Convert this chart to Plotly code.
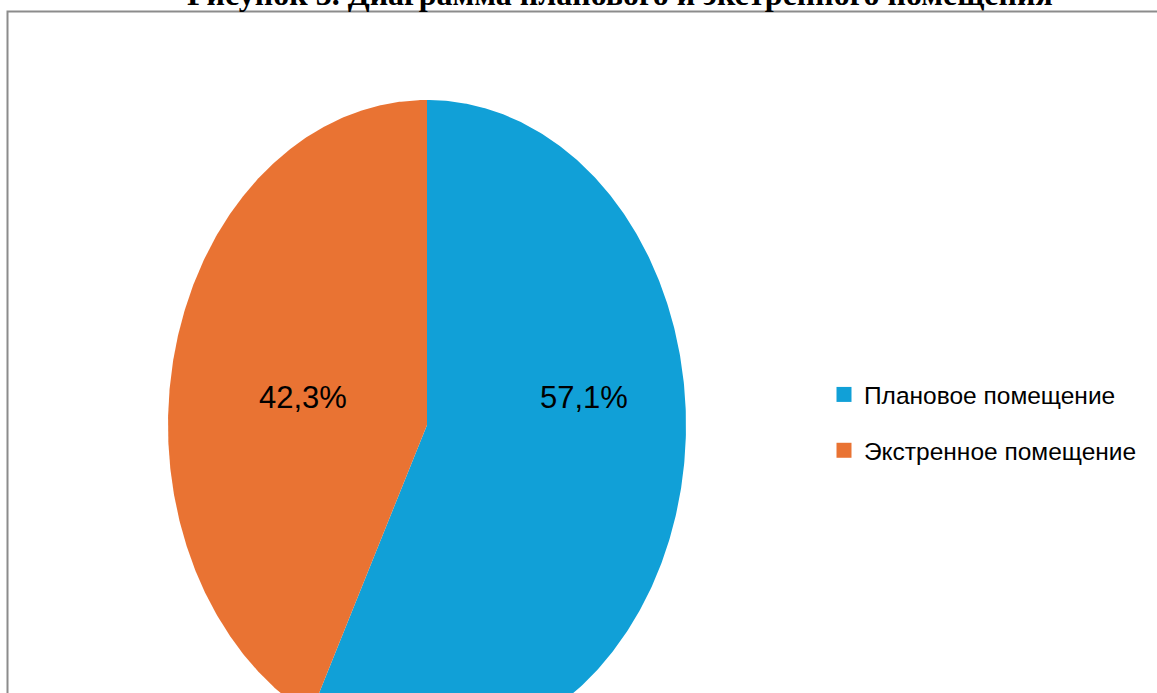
import numpy as np
import plotly.graph_objects as go

# ---- data ----
categories = ["Плановое помещение", "Экстренное помещение"]
values = [57.1, 42.3]
colors = ["#11A0D7", "#E97333"]
title_text = "Рисунок 3. Диаграмма планового и экстренного помещения"

# ---- layout constants (pixels) ----
W, H = 1157, 693
CX, CY = 427, 425      # ellipse centre
RX, RY = 259, 325      # ellipse radii
PAD = 5

fig = go.Figure()
total = sum(values)
start = 0.0
for cat, val, col in zip(categories, values, colors):
    span = val / total * 2 * np.pi
    th = np.linspace(start, start + span, 400)
    xs = np.concatenate([[0], np.sin(th), [0]])
    ys = np.concatenate([[0], np.cos(th), [0]])
    fig.add_trace(go.Scatter(x=xs, y=ys, fill="toself", fillcolor=col, mode="lines",
                             line=dict(width=0, color=col), showlegend=False,
                             hoverinfo="skip"))
    start += span

# legend entries
for cat, col in zip(categories, colors):
    fig.add_trace(go.Scatter(x=[None], y=[None], mode="markers", name=cat, legendgroup=cat,
                             marker=dict(symbol="square", size=15, color=col)))

# labels
label_pos = {"Плановое помещение": (0.606, 0.086), "Экстренное помещение": (-0.478, 0.086)}
for cat, val in zip(categories, values):
    lx, ly = label_pos[cat]
    fig.add_annotation(x=lx, y=ly, xref="x", yref="y", showarrow=False,
                       text=(f"{val:.1f}%").replace(".", ","),
                       font=dict(family="Liberation Sans, Arial", size=31, color="black"))

# title (partly cut off at the top)
fig.add_annotation(x=620 / W, y=1 - 14 / H, xref="paper", yref="paper", showarrow=False,
                   xanchor="center", yanchor="bottom", text=f"<b>{title_text}</b>",
                   font=dict(family="Liberation Serif, Times New Roman", size=32, color="black"))

# chart frame
fig.add_shape(type="rect", xref="paper", yref="paper", x0=7.5 / W, x1=1.2, y0=-0.2,
              y1=1 - 11.5 / H, line=dict(color="#8c8c8c", width=2), fillcolor="rgba(0,0,0,0)")

fig.update_layout(
    width=W, height=H,
    margin=dict(l=0, r=0, t=0, b=0),
    paper_bgcolor="white", plot_bgcolor="rgba(0,0,0,0)",
    xaxis=dict(visible=False, domain=[(CX - RX - PAD) / W, (CX + RX + PAD) / W],
               range=[-(RX + PAD) / RX, (RX + PAD) / RX], fixedrange=True),
    yaxis=dict(visible=False, domain=[0, 1 - (CY - RY - PAD) / H],
               range=[-(H - CY) / RY, (RY + PAD) / RY], fixedrange=True),
    showlegend=True,
    legend=dict(x=824 / W, y=1 - 372 / H, xanchor="left", yanchor="top",
                traceorder="grouped", tracegroupgap=21, bgcolor="rgba(0,0,0,0)",
                font=dict(family="Liberation Sans, Arial", size=24.5, color="black")),
)

fig.write_html(
    "out.html",
    config={"displayModeBar": False},
    post_script="document.body.style.margin='0';document.body.style.overflow='hidden';",
)
